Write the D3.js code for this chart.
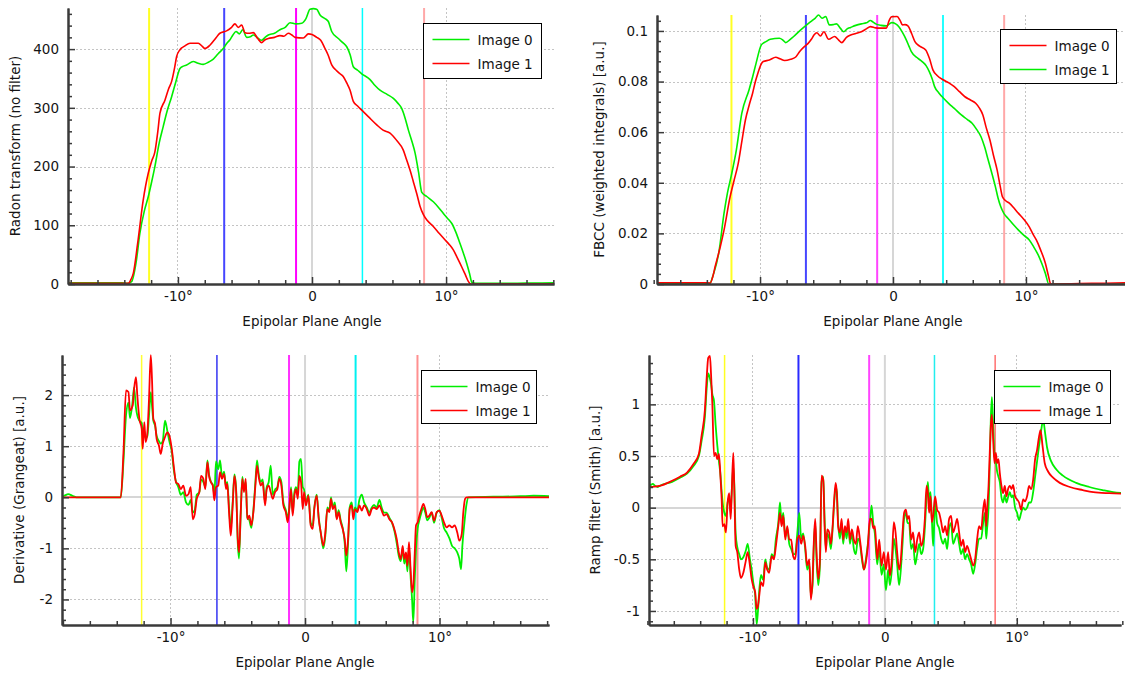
<!DOCTYPE html>
<html>
<head>
<meta charset="utf-8">
<script src="https://cdn.jsdelivr.net/npm/d3@7"></script>
<style>
  html, body { margin: 0; padding: 0; background: #ffffff; }
  svg { display: block; font-family: "DejaVu Sans", Verdana, sans-serif; }
</style>
</head>
<body>
<svg id="chart" width="1125" height="673"></svg>
<script>
// ---------------------------------------------------------------------------
// Data: [epipolar plane angle (deg), value]
// ---------------------------------------------------------------------------

// Radon transform (no filter)
const radonImage0 = [[-18.2,2],[-16,2],[-14.2,2],[-13.75,1],[-13.46,4],[-13.1,40],[-12.84,86],[-12.5,125],[-12.21,149],[-11.95,175],[-11.72,200],[-11.4,240],[-11.1,268],[-10.8,295],[-10.47,319],[-10.15,345],[-9.85,367],[-9.6,371],[-9.35,373],[-8.86,379],[-8.5,376],[-8.11,374],[-7.7,378],[-7.36,383],[-7.0,392],[-6.62,401],[-6.35,410],[-6.12,416],[-5.9,424],[-5.67,430],[-5.42,426],[-5.17,433],[-4.87,420],[-4.6,421],[-4.38,424],[-4.1,420],[-3.76,415],[-3.5,420],[-3.26,424],[-2.8,427],[-2.39,433],[-2.0,437],[-1.64,445],[-1.2,443],[-0.77,444],[-0.45,452],[-0.15,468],[0.1,469],[0.35,468],[0.6,458],[0.97,452],[1.22,447],[1.47,430],[1.96,418],[2.3,411],[2.59,404],[2.85,390],[3.08,370],[3.4,364],[3.71,358],[4.33,348],[4.7,338],[5.07,330],[5.6,323],[6.07,316],[6.4,308],[6.69,299],[6.95,282],[7.19,262],[7.45,243],[7.69,223],[7.95,190],[8.19,156],[8.56,149],[9.05,140],[9.45,130],[9.8,120],[10.1,112],[10.43,103],[10.75,87],[11.04,69],[11.3,52],[11.54,35],[11.75,18],[11.92,3],[12.2,1],[14,1],[16,1.5],[18.2,2]];
const radonImage1 = [[-18.2,1],[-16,1],[-14.2,1],[-13.7,1],[-13.5,8],[-13.33,18],[-13.0,70],[-12.59,143],[-12.21,189],[-11.95,210],[-11.72,225],[-11.5,260],[-11.34,291],[-10.97,313],[-10.7,332],[-10.47,345],[-10.25,368],[-10.1,387],[-9.85,399],[-9.5,405],[-9.1,410],[-8.48,410],[-8.2,405],[-7.99,401],[-7.6,407],[-7.2,418],[-6.87,427],[-6.37,431],[-6.0,437],[-5.75,443],[-5.5,437],[-5.25,441],[-5.0,428],[-4.7,427],[-4.38,428],[-4.05,418],[-3.76,411],[-3.5,416],[-3.26,418],[-2.8,420],[-2.39,423],[-2.1,422],[-1.77,427],[-1.5,424],[-1.27,420],[-0.65,419],[-0.27,426],[0.0,425],[0.35,420],[0.65,415],[0.97,401],[1.2,390],[1.47,373],[1.8,364],[2.09,358],[2.34,353],[2.6,342],[2.84,330],[3.08,311],[3.4,303],[3.71,296],[4.2,285],[4.83,271],[5.3,262],[5.82,257],[6.3,245],[6.81,228],[7.05,212],[7.31,194],[7.55,175],[7.81,154],[8.05,133],[8.31,118],[8.6,108],[9.05,98],[9.5,86],[9.93,75],[10.25,67],[10.54,58],[10.85,44],[11.17,29],[11.45,15],[11.67,4],[11.85,0],[14,0.5],[18.2,0.5]];
const radonTicks = [0, 100, 200, 300, 400];

// FBCC (weighted integrals)
const fbccImage0 = [[-18.2,0.0005],[-14.2,0.0005],[-13.75,0.0004],[-13.55,0.003],[-13.38,0.0068],[-13.0,0.0145],[-12.71,0.0213],[-12.25,0.0345],[-11.95,0.041],[-11.64,0.0477],[-11.35,0.057],[-11.1,0.0648],[-10.8,0.071],[-10.56,0.0754],[-10.35,0.08],[-10.16,0.0833],[-9.95,0.0865],[-9.76,0.0879],[-9.3,0.0885],[-8.82,0.0896],[-8.5,0.089],[-8.15,0.0883],[-7.7,0.0888],[-7.34,0.0896],[-7.0,0.092],[-6.67,0.0938],[-6.4,0.095],[-6.14,0.0967],[-5.93,0.0985],[-5.73,0.0993],[-5.46,0.098],[-5.2,0.0997],[-4.84,0.0967],[-4.39,0.0978],[-4.1,0.0965],[-3.85,0.0954],[-3.5,0.0975],[-3.18,0.0984],[-2.8,0.099],[-2.38,0.0997],[-2.0,0.1008],[-1.7,0.1017],[-1.3,0.1012],[-1.03,0.1011],[-0.5,0.1011],[-0.3,0.104],[-0.1,0.1056],[0.31,0.1057],[0.55,0.104],[0.71,0.1024],[0.9,0.1025],[1.12,0.102],[1.4,0.099],[1.65,0.0958],[2.0,0.094],[2.46,0.0925],[2.75,0.089],[3.0,0.0846],[3.3,0.0825],[3.8,0.0806],[4.2,0.0795],[4.61,0.078],[5.0,0.076],[5.41,0.074],[5.8,0.0728],[6.22,0.0714],[6.5,0.0695],[6.76,0.0668],[7.0,0.062],[7.29,0.0569],[7.55,0.051],[7.83,0.0451],[8.05,0.039],[8.23,0.0345],[8.5,0.0328],[8.77,0.0319],[9.1,0.03],[9.44,0.0279],[9.85,0.0255],[10.25,0.0226],[10.55,0.0195],[10.78,0.0174],[11.1,0.0135],[11.46,0.0082],[11.7,0.003],[11.86,0],[14,0.0002],[16,0.0003],[18.2,0.0006]];
const fbccImage1 = [[-18.2,0.0002],[-14.2,0.0002],[-13.79,0.0002],[-13.5,0.004],[-13.11,0.0121],[-12.71,0.0279],[-12.45,0.036],[-12.18,0.0424],[-11.78,0.053],[-11.37,0.0675],[-10.83,0.0767],[-10.55,0.082],[-10.3,0.0872],[-9.9,0.0945],[-9.55,0.0958],[-9.22,0.0967],[-8.55,0.0971],[-8.3,0.0965],[-8.07,0.0954],[-7.75,0.0966],[-7.47,0.0978],[-6.94,0.1004],[-6.4,0.1028],[-6.1,0.104],[-5.86,0.105],[-5.6,0.1063],[-5.33,0.105],[-5.06,0.1057],[-4.79,0.1024],[-4.5,0.1025],[-4.25,0.1028],[-3.95,0.101],[-3.71,0.0997],[-3.45,0.1008],[-3.18,0.1014],[-2.8,0.1022],[-2.38,0.1028],[-2.0,0.1032],[-1.7,0.1041],[-1.5,0.1035],[-1.3,0.1028],[-0.9,0.1022],[-0.5,0.102],[-0.09,0.1033],[0.2,0.1028],[0.44,0.1017],[0.7,0.0995],[0.98,0.0967],[1.2,0.094],[1.38,0.0918],[1.8,0.0895],[2.19,0.0879],[2.5,0.0862],[2.73,0.0839],[2.95,0.081],[3.13,0.078],[3.45,0.0755],[3.8,0.0734],[4.2,0.0713],[4.61,0.0694],[5.14,0.0668],[5.6,0.065],[5.95,0.0635],[6.3,0.061],[6.62,0.0582],[6.9,0.054],[7.16,0.049],[7.45,0.0435],[7.7,0.0385],[7.9,0.034],[8.1,0.0306],[8.35,0.0278],[8.64,0.026],[9.05,0.0235],[9.44,0.0213],[9.85,0.0192],[10.25,0.0174],[10.6,0.0145],[10.92,0.0115],[11.2,0.008],[11.46,0.0042],[11.72,0],[14,0],[18.2,0]];
const fbccTicks = [0, 0.02, 0.04, 0.06, 0.08, 0.1];

// Derivative (Grangeat)
const gradImage0 = [[-18.2,0],[-17.9,0.03],[-17.6,0.06],[-17.3,0.03],[-17.0,0],[-14,0],[-13.7,0],[-13.5,0.7],[-13.31,1.6],[-13.13,1.85],[-13.01,1.55],[-12.81,1.9],[-12.71,2.15],[-12.57,1.75],[-12.47,1.6],[-12.32,1.5],[-12.14,1.45],[-12.07,1.2],[-11.95,1.3],[-11.85,1.15],[-11.72,1.2],[-11.6,1.6],[-11.47,2.06],[-11.38,1.8],[-11.28,1.5],[-11.15,1.4],[-11.03,1.2],[-10.86,1.1],[-10.73,1.05],[-10.58,1.1],[-10.41,1.5],[-10.24,1.3],[-10.09,1.1],[-9.91,0.9],[-9.74,0.5],[-9.59,0.3],[-9.42,0.2],[-9.24,0.05],[-9.05,0.1],[-8.85,-0.1],[-8.67,-0.15],[-8.5,-0.05],[-8.35,-0.3],[-8.2,-0.25],[-8.05,0.05],[-7.86,0.1],[-7.73,0.35],[-7.56,0.3],[-7.41,0.2],[-7.26,0.72],[-7.14,0.45],[-6.99,0.3],[-6.86,0.25],[-6.74,0.05],[-6.62,0.7],[-6.45,0.55],[-6.32,0.72],[-6.17,0.4],[-6.02,0.5],[-5.87,0.2],[-5.78,0.3],[-5.65,-0.2],[-5.52,-0.6],[-5.38,-0.1],[-5.25,0.45],[-5.13,0.2],[-5.0,-0.9],[-4.91,-1.2],[-4.78,-0.3],[-4.66,0.4],[-4.54,0.15],[-4.41,0.3],[-4.29,-0.4],[-4.14,-0.45],[-3.99,-0.6],[-3.84,-0.25],[-3.69,0.3],[-3.57,0.72],[-3.44,0.45],[-3.29,0.3],[-3.15,0.35],[-2.97,-0.1],[-2.85,0.2],[-2.7,0.3],[-2.55,0.62],[-2.4,0.05],[-2.23,0.15],[-2.06,0.2],[-1.91,0.4],[-1.76,0.3],[-1.61,-0.1],[-1.43,-0.25],[-1.29,-0.4],[-1.17,-0.2],[-1.04,0.2],[-0.92,-0.3],[-0.79,0.1],[-0.67,0.2],[-0.54,0.1],[-0.42,0.7],[-0.3,0.75],[-0.17,0.2],[-0.07,0.15],[0.07,-0.1],[0.25,0.05],[0.42,-0.5],[0.57,-0.55],[0.69,-0.2],[0.87,0.05],[1.02,-0.4],[1.17,-0.7],[1.36,-1.0],[1.51,-0.75],[1.66,-0.2],[1.81,-0.25],[1.93,0.0],[2.06,-0.2],[2.21,-0.1],[2.36,-0.4],[2.5,-0.25],[2.65,-0.45],[2.8,-0.6],[2.95,-0.9],[3.07,-1.45],[3.2,-0.9],[3.32,-0.2],[3.47,-0.1],[3.59,-0.35],[3.72,-0.2],[3.89,-0.25],[4.04,-0.05],[4.22,0.05],[4.39,-0.1],[4.59,-0.2],[4.78,-0.3],[4.96,-0.2],[5.13,-0.15],[5.33,-0.2],[5.53,-0.05],[5.7,-0.2],[5.87,-0.3],[6.07,-0.3],[6.27,-0.4],[6.47,-0.5],[6.64,-0.65],[6.82,-0.9],[6.97,-1.15],[7.12,-1.25],[7.26,-1.0],[7.38,-1.3],[7.51,-1.15],[7.61,-1.45],[7.73,-1.0],[7.86,-1.6],[7.96,-2.0],[8.05,-2.45],[8.16,-1.6],[8.25,-1.0],[8.38,-0.6],[8.5,-0.45],[8.65,-0.3],[8.8,-0.2],[8.94,-0.3],[9.09,-0.45],[9.24,-0.4],[9.42,-0.3],[9.59,-0.5],[9.79,-0.3],[9.99,-0.25],[10.16,-0.4],[10.33,-0.6],[10.53,-0.69],[10.73,-0.8],[10.93,-0.95],[11.13,-1.0],[11.32,-1.08],[11.47,-1.2],[11.6,-1.41],[11.7,-0.95],[11.85,-0.5],[12.0,-0.15],[12.15,0],[14,0.01],[16,0.02],[17,0.03],[18.2,0.02]];
const gradImage1 = [[-18.2,0],[-16,0],[-14,0],[-13.7,0],[-13.5,0.88],[-13.31,2.09],[-13.13,2.06],[-13.01,1.7],[-12.81,1.8],[-12.71,2.12],[-12.57,2.35],[-12.47,1.99],[-12.32,1.54],[-12.14,1.34],[-12.07,0.95],[-11.95,1.47],[-11.85,1.08],[-11.72,1.27],[-11.6,1.93],[-11.47,2.78],[-11.38,2.32],[-11.28,1.54],[-11.15,1.44],[-11.03,1.14],[-10.86,1.01],[-10.73,0.85],[-10.58,1.05],[-10.41,1.18],[-10.24,1.27],[-10.09,1.21],[-9.91,0.95],[-9.74,0.56],[-9.59,0.29],[-9.42,0.26],[-9.24,0.16],[-9.05,0.23],[-8.85,0.03],[-8.67,0.06],[-8.5,0.2],[-8.35,-0.43],[-8.2,-0.33],[-8.05,-0.03],[-7.86,0.1],[-7.73,0.42],[-7.56,0.36],[-7.41,0.16],[-7.26,0.69],[-7.14,0.42],[-6.99,0.29],[-6.86,0.23],[-6.74,-0.06],[-6.62,0.2],[-6.45,0.23],[-6.32,0.49],[-6.17,0.36],[-6.02,0.46],[-5.87,0.16],[-5.78,0.26],[-5.65,-0.29],[-5.52,-0.75],[-5.38,-0.16],[-5.25,0.42],[-5.13,0.16],[-5.0,-0.82],[-4.91,-1.08],[-4.78,-0.29],[-4.66,0.36],[-4.54,0.1],[-4.41,0.36],[-4.29,-0.43],[-4.14,-0.36],[-3.99,-0.55],[-3.84,-0.29],[-3.69,0.23],[-3.57,0.62],[-3.44,0.39],[-3.29,0.23],[-3.15,0.29],[-2.97,-0.16],[-2.85,0.16],[-2.7,0.23],[-2.55,0.1],[-2.4,-0.03],[-2.23,0.1],[-2.06,0.16],[-1.91,0.36],[-1.76,0.23],[-1.61,-0.16],[-1.43,-0.29],[-1.29,-0.49],[-1.17,-0.23],[-1.04,0.16],[-0.92,-0.36],[-0.79,0.03],[-0.67,0.16],[-0.54,-0.03],[-0.42,0.42],[-0.3,0.3],[-0.17,-0.23],[-0.07,0.1],[0.07,-0.16],[0.25,0.03],[0.42,-0.55],[0.57,-0.62],[0.69,-0.23],[0.87,0.03],[1.02,-0.43],[1.17,-0.69],[1.36,-0.95],[1.51,-0.69],[1.66,-0.23],[1.81,-0.29],[1.93,-0.03],[2.06,-0.23],[2.21,-0.16],[2.36,-0.43],[2.5,-0.29],[2.65,-0.49],[2.8,-0.62],[2.95,-0.82],[3.07,-1.14],[3.2,-0.82],[3.32,-0.23],[3.47,-0.16],[3.59,-0.43],[3.72,-0.23],[3.89,-0.29],[4.04,-0.16],[4.22,-0.26],[4.39,-0.16],[4.59,-0.23],[4.78,-0.36],[4.96,-0.23],[5.13,-0.2],[5.33,-0.23],[5.53,-0.16],[5.7,-0.26],[5.87,-0.36],[6.07,-0.33],[6.27,-0.43],[6.47,-0.49],[6.64,-0.62],[6.82,-0.82],[6.97,-1.08],[7.12,-1.21],[7.26,-0.95],[7.38,-1.21],[7.51,-1.08],[7.61,-1.34],[7.73,-0.88],[7.86,-1.47],[7.96,-1.86],[8.05,-1.73],[8.16,-1.08],[8.25,-0.55],[8.38,-0.49],[8.5,-0.36],[8.65,-0.23],[8.8,-0.13],[8.94,-0.23],[9.09,-0.39],[9.24,-0.36],[9.42,-0.29],[9.59,-0.46],[9.79,-0.29],[9.99,-0.26],[10.16,-0.36],[10.33,-0.49],[10.53,-0.59],[10.73,-0.55],[10.93,-0.59],[11.13,-0.55],[11.32,-0.69],[11.47,-0.85],[11.65,-0.72],[11.77,-0.29],[11.9,-0.03],[12.02,0],[14,0],[16,0],[18.2,0]];
const gradTicks = [-2, -1, 0, 1, 2];

// Ramp filter (Smith)
const rampImage0 = [[-18.2,0.21],[-17.75,0.22],[-17.6,0.23],[-17.4,0.21],[-17.2,0.2],[-17.08,0.21],[-16.13,0.25],[-15.53,0.29],[-15.0,0.33],[-14.52,0.4],[-14.1,0.5],[-13.89,0.65],[-13.64,0.88],[-13.51,1.15],[-13.39,1.3],[-13.26,1.25],[-13.18,1.2],[-13.08,1.1],[-12.95,1.03],[-12.83,0.8],[-12.7,0.6],[-12.58,0.45],[-12.45,0.3],[-12.37,0.15],[-12.3,0.05],[-12.17,-0.05],[-12.05,-0.08],[-11.92,0.05],[-11.8,0.1],[-11.69,-0.05],[-11.61,0.15],[-11.49,0.4],[-11.42,0.25],[-11.31,-0.25],[-11.19,-0.38],[-11.04,-0.45],[-10.91,-0.5],[-10.73,-0.48],[-10.55,-0.42],[-10.4,-0.35],[-10.23,-0.5],[-10.1,-0.6],[-9.98,-0.72],[-9.83,-0.85],[-9.72,-1.13],[-9.62,-1.0],[-9.52,-0.8],[-9.39,-0.65],[-9.22,-0.7],[-9.07,-0.5],[-8.92,-0.58],[-8.77,-0.6],[-8.58,-0.45],[-8.41,-0.48],[-8.26,-0.3],[-8.08,-0.15],[-7.95,0.05],[-7.83,-0.15],[-7.7,-0.05],[-7.55,-0.28],[-7.4,-0.2],[-7.25,-0.35],[-7.1,-0.4],[-6.95,-0.45],[-6.8,-0.45],[-6.64,-0.25],[-6.49,-0.05],[-6.34,-0.3],[-6.19,-0.25],[-6.04,-0.4],[-5.89,-0.6],[-5.73,-0.55],[-5.61,-0.85],[-5.48,-0.75],[-5.38,-0.35],[-5.28,-0.15],[-5.18,-0.5],[-5.05,-0.75],[-4.92,-0.55],[-4.8,0.25],[-4.67,0.3],[-4.57,-0.1],[-4.47,-0.4],[-4.37,-0.25],[-4.22,-0.3],[-4.09,-0.4],[-3.96,-0.2],[-3.84,0.05],[-3.73,0.2],[-3.64,0.15],[-3.54,-0.15],[-3.41,-0.3],[-3.28,-0.15],[-3.16,-0.35],[-3.03,-0.2],[-2.9,-0.3],[-2.78,-0.15],[-2.65,-0.35],[-2.5,-0.25],[-2.35,-0.4],[-2.2,-0.45],[-2.05,-0.3],[-1.89,-0.35],[-1.74,-0.5],[-1.59,-0.6],[-1.44,-0.5],[-1.29,-0.35],[-1.14,-0.15],[-1.01,0.02],[-0.88,-0.15],[-0.76,-0.25],[-0.58,-0.55],[-0.43,-0.4],[-0.25,-0.65],[-0.08,-0.55],[0.08,-0.8],[0.25,-0.6],[0.38,-0.75],[0.53,-0.6],[0.68,-0.3],[0.81,-0.4],[0.93,-0.55],[1.08,-0.75],[1.21,-0.6],[1.34,-0.35],[1.46,-0.1],[1.59,-0.05],[1.72,-0.15],[1.84,-0.15],[1.99,-0.4],[2.14,-0.35],[2.3,-0.55],[2.45,-0.45],[2.6,-0.35],[2.75,-0.45],[2.9,-0.4],[3.03,-0.2],[3.16,0.1],[3.26,0.25],[3.36,0.05],[3.46,0.15],[3.56,-0.1],[3.66,-0.37],[3.81,0.05],[3.96,-0.15],[4.11,-0.2],[4.27,-0.3],[4.42,-0.35],[4.57,-0.3],[4.72,-0.4],[4.87,-0.2],[5.02,-0.15],[5.17,-0.35],[5.33,-0.3],[5.48,-0.25],[5.63,-0.35],[5.78,-0.45],[5.93,-0.4],[6.08,-0.5],[6.23,-0.45],[6.39,-0.5],[6.54,-0.55],[6.69,-0.64],[6.84,-0.55],[6.99,-0.4],[7.14,-0.3],[7.3,-0.3],[7.45,-0.15],[7.58,-0.05],[7.68,-0.3],[7.75,-0.2],[7.86,0.0],[7.95,0.4],[8.03,0.85],[8.11,1.07],[8.21,0.8],[8.31,0.5],[8.41,0.45],[8.51,0.35],[8.61,0.3],[8.71,0.25],[8.84,0.1],[8.96,0.05],[9.09,0.12],[9.22,0.05],[9.34,0.1],[9.47,0.15],[9.6,0.1],[9.72,0.12],[9.87,0.0],[10.02,-0.05],[10.17,-0.12],[10.33,-0.05],[10.48,0.0],[10.63,-0.02],[10.78,0.0],[10.93,0.05],[11.08,0.05],[11.24,0.15],[11.39,0.3],[11.54,0.45],[11.69,0.6],[11.85,0.75],[12.0,0.85],[12.15,0.72],[12.3,0.58],[12.6,0.45],[13.0,0.37],[13.5,0.31],[14.5,0.24],[15.5,0.2],[16.5,0.17],[17.3,0.15],[18.2,0.14]];
const rampImage1 = [[-18.2,0.19],[-17.75,0.2],[-17.08,0.21],[-16.13,0.26],[-15.53,0.3],[-15.0,0.34],[-14.52,0.42],[-14.1,0.52],[-13.89,0.7],[-13.64,0.95],[-13.51,1.25],[-13.39,1.45],[-13.26,1.47],[-13.18,1.3],[-13.08,1.01],[-12.95,0.5],[-12.83,0.53],[-12.7,0.47],[-12.58,0.52],[-12.45,0.27],[-12.37,0.08],[-12.3,-0.18],[-12.17,-0.16],[-12.05,-0.24],[-11.92,0.05],[-11.8,0.14],[-11.69,-0.11],[-11.61,0.14],[-11.49,0.53],[-11.42,0.21],[-11.31,-0.37],[-11.19,-0.43],[-11.04,-0.6],[-10.91,-0.68],[-10.73,-0.63],[-10.55,-0.52],[-10.4,-0.43],[-10.23,-0.56],[-10.1,-0.69],[-9.98,-0.76],[-9.83,-0.82],[-9.72,-0.98],[-9.62,-0.95],[-9.52,-0.85],[-9.39,-0.72],[-9.22,-0.76],[-9.07,-0.53],[-8.92,-0.6],[-8.77,-0.63],[-8.58,-0.47],[-8.41,-0.5],[-8.26,-0.37],[-8.08,-0.18],[-7.95,-0.05],[-7.83,-0.18],[-7.7,-0.08],[-7.55,-0.31],[-7.4,-0.18],[-7.25,-0.31],[-7.1,-0.31],[-6.95,-0.47],[-6.8,-0.5],[-6.64,-0.31],[-6.49,-0.27],[-6.34,-0.35],[-6.19,-0.27],[-6.04,-0.37],[-5.89,-0.56],[-5.73,-0.5],[-5.61,-0.89],[-5.48,-0.69],[-5.38,-0.31],[-5.28,-0.11],[-5.18,-0.43],[-5.05,-0.69],[-4.92,-0.5],[-4.8,0.31],[-4.67,0.27],[-4.57,-0.18],[-4.47,-0.43],[-4.37,-0.21],[-4.22,-0.24],[-4.09,-0.35],[-3.96,-0.18],[-3.84,0.08],[-3.73,0.24],[-3.64,0.14],[-3.54,-0.18],[-3.41,-0.24],[-3.28,-0.11],[-3.16,-0.31],[-3.03,-0.18],[-2.9,-0.24],[-2.78,-0.11],[-2.65,-0.31],[-2.5,-0.21],[-2.35,-0.31],[-2.2,-0.35],[-2.05,-0.18],[-1.89,-0.31],[-1.74,-0.47],[-1.59,-0.6],[-1.44,-0.53],[-1.29,-0.37],[-1.14,-0.11],[-1.01,-0.11],[-0.88,-0.2],[-0.76,-0.18],[-0.58,-0.5],[-0.43,-0.31],[-0.25,-0.56],[-0.08,-0.43],[0.08,-0.6],[0.25,-0.43],[0.38,-0.66],[0.53,-0.5],[0.68,-0.14],[0.81,-0.24],[0.93,-0.43],[1.08,-0.6],[1.21,-0.5],[1.34,-0.24],[1.46,-0.05],[1.59,-0.02],[1.72,-0.11],[1.84,-0.08],[1.99,-0.31],[2.14,-0.24],[2.3,-0.43],[2.45,-0.31],[2.6,-0.24],[2.75,-0.37],[2.9,-0.31],[3.03,-0.11],[3.16,0.21],[3.26,0.14],[3.36,-0.05],[3.46,0.11],[3.56,-0.14],[3.66,-0.08],[3.81,0.11],[3.96,-0.02],[4.11,-0.05],[4.27,-0.14],[4.42,-0.24],[4.57,-0.18],[4.72,-0.27],[4.87,-0.11],[5.02,-0.08],[5.17,-0.24],[5.33,-0.18],[5.48,-0.11],[5.63,-0.24],[5.78,-0.37],[5.93,-0.31],[6.08,-0.43],[6.23,-0.37],[6.39,-0.43],[6.54,-0.5],[6.69,-0.56],[6.84,-0.5],[6.99,-0.31],[7.14,-0.18],[7.3,-0.21],[7.45,-0.02],[7.58,0.08],[7.68,-0.18],[7.75,-0.02],[7.86,0.21],[7.95,0.53],[8.03,0.79],[8.11,0.9],[8.21,0.66],[8.31,0.43],[8.41,0.53],[8.51,0.43],[8.61,0.47],[8.71,0.34],[8.84,0.21],[8.96,0.14],[9.09,0.21],[9.22,0.11],[9.34,0.18],[9.47,0.21],[9.6,0.18],[9.72,0.22],[9.87,0.11],[10.02,0.08],[10.17,0.05],[10.33,-0.02],[10.48,0.08],[10.63,0.06],[10.78,0.11],[10.93,0.21],[11.08,0.18],[11.24,0.27],[11.39,0.47],[11.54,0.56],[11.69,0.69],[11.8,0.75],[11.95,0.6],[12.12,0.43],[12.37,0.35],[12.75,0.29],[13.26,0.24],[14.02,0.2],[15.0,0.17],[15.8,0.15],[17.0,0.14],[18.2,0.135]];
const rampTicks = [-1, -0.5, 0, 0.5, 1];

// Shared x axis
const angleTicks = [-10, 0, 10];
// Reference angles marked by coloured vertical lines
const markerAngles = [-12.15, -6.55, -1.19, 0, 3.76, 8.36];

const GREEN = "#00ee00";
const RED = "#ff0000";

// ---------------------------------------------------------------------------
// Panel layout
// ---------------------------------------------------------------------------
const panels = [
  {
    id: "radon", yTitle: "Radon transform (no filter)",
    box: { left: 68, right: 554, top: 8, bottom: 284 },
    xDomain: [-18.2, 18.05], yDomain: [0, 470],
    yTicks: radonTicks, yMinorStep: 20, yTitleX: 15,
    zeroLine: false, curveWidth: 1.6,
    markerColors: ["#ffff22", "#4646ff", "#ff00ff", "#d6d6d6", "#00ffff", "#ffa8a8"],
    markerWidths: [2, 2, 2, 2, 1.5, 2],
    series: [
      { label: "Image 0", color: GREEN, data: radonImage0 },
      { label: "Image 1", color: RED, data: radonImage1 }
    ],
    drawOrder: [0, 1],
    legend: { x: 423.5, y: 23.5, w: 118, h: 55 }
  },
  {
    id: "fbcc", yTitle: "FBCC (weighted integrals) [a.u.]",
    box: { left: 657, right: 1127, top: 15, bottom: 284 },
    xDomain: [-17.75, 17.6], yDomain: [0, 0.1063],
    yTicks: fbccTicks, yMinorStep: 0.004, yTitleX: 599,
    zeroLine: false, curveWidth: 1.6,
    markerColors: ["#ffff22", "#4646ff", "#ff44ff", "#d6d6d6", "#22ffff", "#ffa8a8"],
    markerWidths: [2, 2, 2, 2, 2, 2],
    series: [
      { label: "Image 0", color: RED, data: fbccImage0 },
      { label: "Image 1", color: GREEN, data: fbccImage1 }
    ],
    drawOrder: [1, 0],
    legend: { x: 1000.5, y: 29.5, w: 116, h: 54 }
  },
  {
    id: "grad", yTitle: "Derivative (Grangeat) [a.u.]",
    box: { left: 62, right: 549, top: 355, bottom: 625 },
    xDomain: [-18.07, 18.14], yDomain: [-2.5, 2.785],
    yTicks: gradTicks, yMinorStep: 0.2, yTitleX: 19,
    zeroLine: true, curveWidth: 1.8,
    markerColors: ["#ffff30", "#0000ee", "#ff30ff", "#d6d6d6", "#00f0f0", "#ff9090"],
    markerWidths: [1.5, 1.2, 2, 2, 2, 2],
    series: [
      { label: "Image 0", color: GREEN, data: gradImage0 },
      { label: "Image 1", color: RED, data: gradImage1 }
    ],
    drawOrder: [0, 1],
    legend: { x: 421.5, y: 370.5, w: 115, h: 53 }
  },
  {
    id: "ramp", yTitle: "Ramp filter (Smith) [a.u.]",
    box: { left: 649, right: 1121, top: 355, bottom: 625 },
    xDomain: [-17.88, 17.9], yDomain: [-1.136, 1.478],
    yTicks: rampTicks, yMinorStep: 0.1, yTitleX: 595,
    zeroLine: true, curveWidth: 1.8,
    markerColors: ["#ffff22", "#2a2aff", "#ff44ff", "#d6d6d6", "#22eeee", "#ff7070"],
    markerWidths: [1.5, 2, 2, 2, 1.5, 1.5],
    series: [
      { label: "Image 0", color: GREEN, data: rampImage0 },
      { label: "Image 1", color: RED, data: rampImage1 }
    ],
    drawOrder: [0, 1],
    legend: { x: 994.5, y: 370.5, w: 116, h: 53 }
  }
];

// ---------------------------------------------------------------------------
// Rendering
// ---------------------------------------------------------------------------
const svg = d3.select("#chart");
const AXIS_COLOR = "#3a3a3a";
const TEXT_COLOR = "#141414";
const FONT_SIZE = 13.5;

const numFmt = d => {
  if (Math.abs(d) < 1e-12) return "0";
  return String(+d.toFixed(3));
};
const angleFmt = d => (d === 0 ? "0" : `${d}\u00b0`);

panels.forEach(p => {
  const { left, right, top, bottom } = p.box;
  const x = d3.scaleLinear().domain(p.xDomain).range([left, right]);
  const y = d3.scaleLinear().domain(p.yDomain).range([bottom, top]);
  const g = svg.append("g").attr("class", `panel panel-${p.id}`);

  const clipId = `clip-${p.id}`;
  svg.append("defs").append("clipPath").attr("id", clipId)
    .append("rect")
    .attr("x", left).attr("y", top - 1)
    .attr("width", right - left).attr("height", bottom - top + 1);

  const plot = g.append("g").attr("clip-path", `url(#${clipId})`);

  // dotted grid at major ticks
  plot.append("g").selectAll("line")
    .data(angleTicks.filter(t => t !== 0))
    .join("line")
    .attr("x1", d => Math.floor(x(d)) + 0.5).attr("x2", d => Math.floor(x(d)) + 0.5)
    .attr("y1", top).attr("y2", bottom)
    .attr("stroke", "#c4c4c4").attr("stroke-width", 1)
    .attr("stroke-dasharray", "2,2");

  plot.append("g").selectAll("line")
    .data(p.yTicks.filter(t => t !== 0))
    .join("line")
    .attr("x1", left).attr("x2", right)
    .attr("y1", d => Math.round(y(d)) + 0.5).attr("y2", d => Math.round(y(d)) + 0.5)
    .attr("stroke", "#c4c4c4").attr("stroke-width", 1)
    .attr("stroke-dasharray", "2,2");

  // solid zero line for signed quantities
  if (p.zeroLine) {
    plot.append("line")
      .attr("x1", left).attr("x2", right)
      .attr("y1", Math.round(y(0))).attr("y2", Math.round(y(0)))
      .attr("stroke", "#d6d6d6").attr("stroke-width", 2);
  }

  // reference angle markers
  plot.append("g").selectAll("line")
    .data(markerAngles)
    .join("line")
    .attr("x1", d => x(d)).attr("x2", d => x(d))
    .attr("y1", top).attr("y2", bottom)
    .attr("stroke", (d, i) => p.markerColors[i])
    .attr("stroke-width", (d, i) => p.markerWidths[i]);

  // curves
  const line = d3.line()
    .x(d => x(d[0]))
    .y(d => y(d[1]))
    .curve(d3.curveMonotoneX);

  p.drawOrder.forEach(i => {
    const s = p.series[i];
    plot.append("path")
      .datum(s.data)
      .attr("fill", "none")
      .attr("stroke", s.color)
      .attr("stroke-width", p.curveWidth)
      .attr("stroke-linejoin", "round")
      .attr("d", line);
  });

  // axes (ticks point into the plot)
  const styleAxis = sel => {
    sel.selectAll("path.domain").attr("stroke", AXIS_COLOR).attr("stroke-width", 2);
    sel.selectAll(".tick line").attr("stroke", AXIS_COLOR).attr("stroke-width", 1.5);
    sel.selectAll("text")
      .attr("fill", TEXT_COLOR)
      .style("font-family", '"DejaVu Sans", Verdana, sans-serif')
      .style("font-size", `${FONT_SIZE}px`);
  };

  const xMinorTicks = d3.range(-18, 18.01, 2).filter(t => !angleTicks.includes(t));
  const yMinorTicks = d3.range(
    Math.ceil(p.yDomain[0] / p.yMinorStep) * p.yMinorStep,
    p.yDomain[1] + 1e-9, p.yMinorStep
  ).filter(t => !p.yTicks.some(m => Math.abs(m - t) < p.yMinorStep / 10));

  const xMinor = g.append("g").attr("transform", `translate(0,${bottom})`)
    .call(d3.axisBottom(x).tickValues(xMinorTicks).tickFormat("").tickSizeInner(-4).tickSizeOuter(0));
  styleAxis(xMinor);

  const xAxis = g.append("g").attr("transform", `translate(0,${bottom})`)
    .call(d3.axisBottom(x).tickValues(angleTicks).tickFormat(angleFmt)
      .tickSizeInner(-7).tickSizeOuter(0).tickPadding(7));
  styleAxis(xAxis);

  const yMinor = g.append("g").attr("transform", `translate(${left},0)`)
    .call(d3.axisLeft(y).tickValues(yMinorTicks).tickFormat("").tickSizeInner(-4).tickSizeOuter(0));
  styleAxis(yMinor);

  const yAxis = g.append("g").attr("transform", `translate(${left},0)`)
    .call(d3.axisLeft(y).tickValues(p.yTicks).tickFormat(numFmt)
      .tickSizeInner(-7).tickSizeOuter(0).tickPadding(9));
  styleAxis(yAxis);

  // axis titles
  g.append("text")
    .attr("x", x(0)).attr("y", bottom + 42)
    .attr("text-anchor", "middle")
    .attr("fill", TEXT_COLOR)
    .style("font-size", `${FONT_SIZE}px`)
    .text("Epipolar Plane Angle");

  g.append("text")
    .attr("transform", `translate(${p.yTitleX},${(top + bottom) / 2}) rotate(-90)`)
    .attr("text-anchor", "middle")
    .attr("dominant-baseline", "central")
    .attr("fill", TEXT_COLOR)
    .style("font-size", `${FONT_SIZE}px`)
    .text(p.yTitle);

  // legend
  const lg = g.append("g").attr("transform", `translate(${p.legend.x},${p.legend.y})`);
  lg.append("rect")
    .attr("width", p.legend.w).attr("height", p.legend.h)
    .attr("fill", "#ffffff").attr("stroke", "#000000").attr("stroke-width", 1);
  p.series.forEach((s, i) => {
    const cy = 16 + i * 24;
    lg.append("line")
      .attr("x1", 9).attr("x2", 46)
      .attr("y1", cy).attr("y2", cy)
      .attr("stroke", s.color).attr("stroke-width", 1.6);
    lg.append("text")
      .attr("x", 54).attr("y", cy)
      .attr("dominant-baseline", "central")
      .attr("fill", TEXT_COLOR)
      .style("font-size", `${FONT_SIZE}px`)
      .text(s.label);
  });
});
</script>
</body>
</html>
